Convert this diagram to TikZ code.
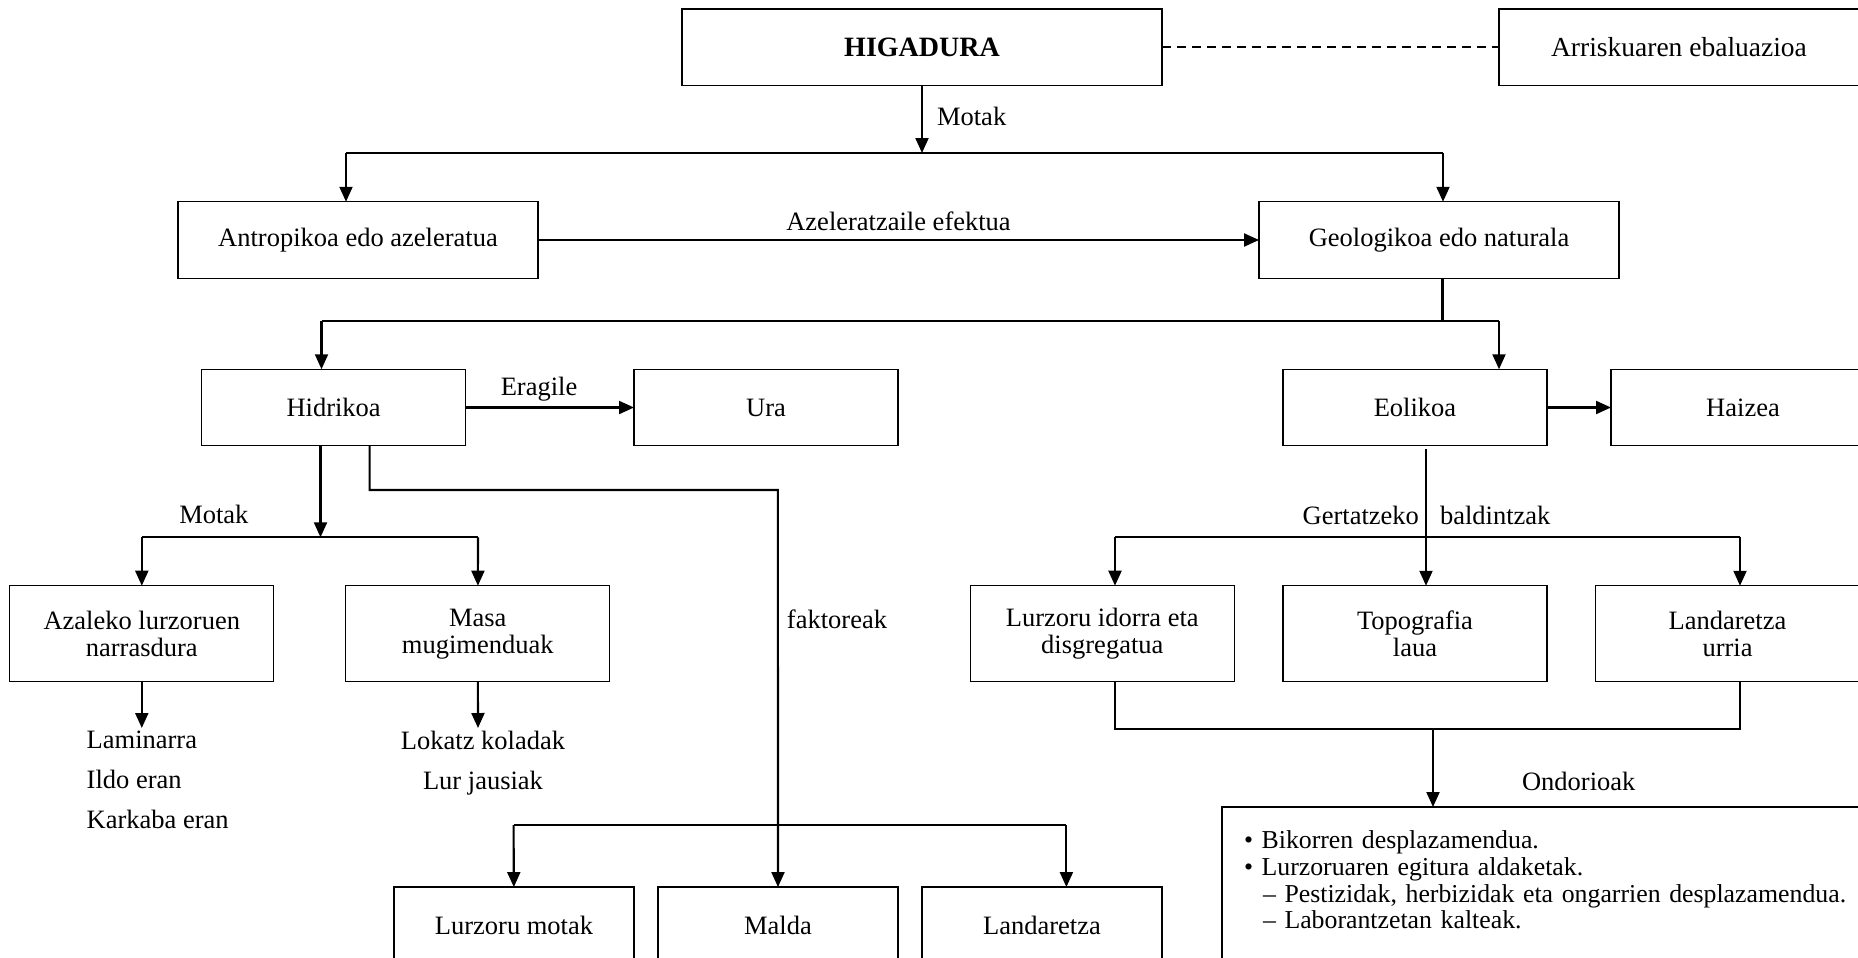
\documentclass[tikz,border=0pt]{standalone}
\usepackage{fontspec}
\setmainfont{Liberation Serif}
\usetikzlibrary{arrows.meta,positioning}
\newcommand\diafont{\fontsize{26.5}{27}\selectfont}
\newcommand\listfont{\fontsize{26.5}{40}\selectfont}
\newcommand\notefont{\fontsize{25.8}{26.6}\selectfont}
\tikzset{
  box/.style={
    draw=black,
    line width=1.3pt,
    minimum width=264pt,
    minimum height=76.5pt,
    inner sep=0pt,
    outer sep=0pt,
    align=center,
    font=\diafont
  },
  widebox/.style={box, minimum width=360pt},
  tallbox/.style={box, minimum height=96pt},
  footbox/.style={box, minimum width=240pt},
  conn/.style={line width=2.1pt},
  arrow/.style={
    conn,
    -{Triangle[length=15pt,width=13pt]}
  },
  dashline/.style={line width=1.8pt, dash pattern=on 9pt off 6pt},
  lbl/.style={font=\diafont, inner sep=2pt}
}

\begin{document}
\begin{tikzpicture}[x=1pt,y=-1pt]
\clip (0,0) rectangle (1858,958);

% top row
\node[box, minimum width=480pt, font=\fontsize{28}{30}\selectfont\bfseries] (higadura) at (922,47.3) {HIGADURA};
\node[widebox, font=\fontsize{27.5}{28}\selectfont, right=337pt of higadura] (arrisku) {Arriskuaren ebaluazioa};

\node[widebox] (antrop) at (358,240) {Antropikoa edo azeleratua};
\node[widebox, right=721pt of antrop] (geolog) {Geologikoa edo naturala};

\node[box] (hidri) at (333.6,407.5) {Hidrikoa};
\node[box, right=168.4pt of hidri] (ura) {Ura};
\node[box] (eoliko) at (1415,407.5) {Eolikoa};
\node[box, right=64pt of eoliko] (haizea) {Haizea};

% hidrikoa motak
\node[tallbox] (azaleko) at (141.8,633.7) {Azaleko lurzoruen\\narrasdura};
\node[tallbox, right=72pt of azaleko] (masa) {Masa\\mugimenduak};

\node[lbl, font=\listfont, align=left, anchor=north west, inner sep=0pt] (lamlist) at (86.5,731) {Laminarra\\Ildo eran\\Karkaba eran};
\node[lbl, font=\listfont, align=center, anchor=north, inner sep=0pt] (loklist) at (483,731) {Lokatz koladak\\Lur jausiak};

% eolikoa baldintzak
\node[tallbox] (lurzidor) at (1102.3,633.7) {Lurzoru idorra eta\\disgregatua};
\node[tallbox, below=140pt of eoliko] (topo) {Topografia\\laua};
\node[tallbox, right=48.5pt of topo] (landurria) {Landaretza\\urria};

% faktoreak
\node[footbox] (lurzmotak) at (514,925.3) {Lurzoru motak};
\node[footbox, right=24pt of lurzmotak] (malda) {Malda};
\node[footbox, right=24pt of malda] (landaretza) {Landaretza};

\node[draw, line width=1.3pt, anchor=north west, inner xsep=22pt, inner ysep=24pt,
  text width=656pt, align=left, font=\notefont, outer sep=0pt] (ondorio) at (1222,807) {
  • Bikorren desplazamendua.\\
  • Lurzoruaren egitura aldaketak.\\
  \hspace*{19pt}– Pestizidak, herbizidak eta ongarrien desplazamendua.\\
  \hspace*{19pt}– Laborantzetan kalteak.\\
  ~
};

% junctions
\coordinate (motakL) at (346,153);
\coordinate (motakR) at (1443,153);
\coordinate (gdrop) at (1442.5,321);
\coordinate (gsplitL) at (321.5,321);
\coordinate (gsplitR) at (1499,321);
\coordinate (hmid) at (320.5,537.3);
\coordinate (hmL) at (141.8,537.3);
\coordinate (hmR) at (478,537.3);
\coordinate (lam) at (141.8,728);
\coordinate (lok) at (478,728);
\coordinate (fk) at (369.6,490);
\coordinate (fk2) at (777.9,490);
\coordinate (fkL) at (513.6,825);
\coordinate (fkR) at (1066.4,825);
\coordinate (gbx) at (1426,537.3);
\coordinate (gbL) at (1115,537.3);
\coordinate (gbR) at (1740,537.3);
\coordinate (ondL) at (1115,729.3);
\coordinate (ondR) at (1740,729.3);
\coordinate (ondM) at (1433,729.3);

\draw[dashline] (higadura) -- (arrisku);
\draw[arrow] (higadura) -- node[lbl, pos=0.46, right=12pt] {Motak} (higadura |- motakL);
\draw[conn] (motakL) -- (motakR);
\draw[arrow] (motakL) -- (motakL |- antrop.north);
\draw[arrow] (motakR) -- (motakR |- geolog.north);
\draw[arrow] (antrop) -- node[lbl, midway, above=6.5pt] {Azeleratzaile efektua} (geolog);

\draw[conn] (gdrop |- geolog.south) -- (gdrop);
\draw[conn] (gsplitL) -- (gsplitR);
\draw[arrow] (gsplitL) -- (gsplitL |- hidri.north);
\draw[arrow] (gsplitR) -- (gsplitR |- eoliko.north);
\draw[arrow] (hidri) -- node[lbl, pos=0.436, above=3pt] {Eragile} (ura);
\draw[arrow] (eoliko) -- (haizea);

\draw[arrow] (hmid |- hidri.south) -- node[lbl, pos=0.75, left=69pt] {Motak} (hmid);
\draw[conn] (hmL) -- (hmR);
\draw[arrow] (hmL) -- (azaleko);
\draw[arrow] (hmR) -- (masa);
\draw[arrow] (azaleko) -- (lam);
\draw[arrow] (masa) -- (lok);

\draw[arrow] (fk |- hidri.south) -- (fk) -- (fk2) -- node[lbl, pos=0.325, right=6pt] {faktoreak} (malda);
\draw[conn] (fkL) -- (fkR);
\draw[arrow] (fkL) -- (lurzmotak);
\draw[arrow] (fkR) -- (fkR |- landaretza.north);

\draw[arrow] ([yshift=-3pt]gbx |- eoliko.south) -- node[lbl, pos=0.485, left=4pt] {Gertatzeko} node[lbl, pos=0.485, right=11pt] {baldintzak} (gbx |- topo.north);
\draw[conn] (gbL) -- (gbR);
\draw[arrow] (gbL) -- (gbL |- lurzidor.north);
\draw[arrow] (gbR) -- (gbR |- landurria.north);
\draw[conn] (gbL |- lurzidor.south) -- (ondL) -- (ondR) -- (gbR |- landurria.south);
\draw[arrow] (ondM) -- node[lbl, pos=0.67, right=86pt] {Ondorioak} (ondM |- ondorio.north);

\end{tikzpicture}
\end{document}
